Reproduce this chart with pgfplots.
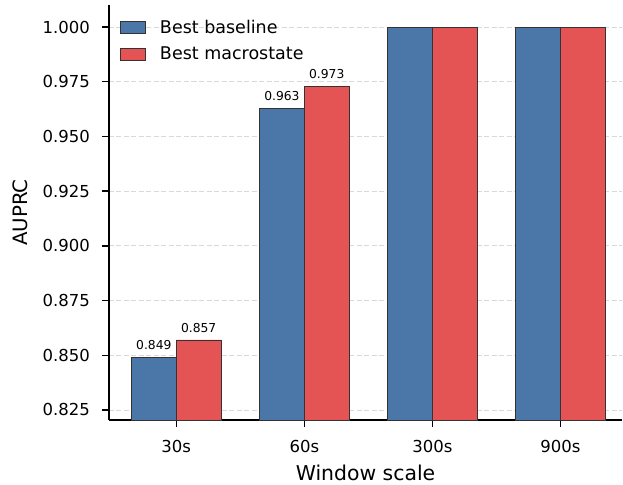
\documentclass[border=0pt]{standalone}
\usepackage{pgfplots}
\pgfplotsset{compat=1.18}
\usepackage{fontspec}
\setmainfont{DejaVu Sans}
\usetikzlibrary{calc}
\definecolor{cblue}{HTML}{4A76A8}
\definecolor{cred}{HTML}{E45455}
\definecolor{edge}{HTML}{333333}
\begin{document}
\begin{tikzpicture}
\begin{axis}[
  scale only axis,
  width=513pt, height=415pt,
  xmin=-0.525, xmax=3.48,
  ymin=0.8204, ymax=1.0101,
  xtick={0,1,2,3},
  xticklabels={30s,60s,300s,900s},
  ytick={0.825,0.850,0.875,0.900,0.925,0.950,0.975,1.000},
  /pgf/number format/assume math mode=true,
  ticklabel style={font=\fontsize{16.5}{20}\selectfont},
  yticklabel style={xshift=-8.5pt, /pgf/number format/.cd, fixed, fixed zerofill, precision=3},
  xticklabel style={anchor=base, yshift=-25pt},
  axis x line*=bottom, axis y line*=left,
  axis line style={line width=1.6pt, -},
  tick align=outside,
  major tick length=7pt,
  tick style={line width=1.4pt, black},
  xtick pos=bottom, ytick pos=left,
  ymajorgrids=true,
  grid style={dashed, gray!30, line width=0.8pt, dash pattern=on 5pt off 2.5pt},
  xlabel={Window scale},
  ylabel={AUPRC},
  every axis x label/.style={at={(axis description cs:0.5,-0.1446)}, anchor=base, inner sep=0pt, font=\fontsize{20.4}{24}\selectfont},
  every axis y label/.style={at={(axis description cs:-0.1735,0.5)}, anchor=center, rotate=90, font=\fontsize{19.8}{24}\selectfont},
  legend style={at={(axis description cs:0,1)}, anchor=north west, draw=none, fill=none,
    xshift=8pt, yshift=-11pt, font=\fontsize{17.5}{20}\selectfont, row sep=8pt},
  legend cell align=left,
  legend image code/.code={\draw[#1] (0pt,-6pt) rectangle (25pt,6pt); \path (37pt,0pt);},
  nodes near coords style={font=\fontsize{12.3}{14}\selectfont, anchor=south, yshift=4pt},
]
\addplot[ybar, bar width=0.35, fill=cblue, draw=edge, line width=0.8pt]
  coordinates {(1.825,1.000) (2.825,1.000)};
\addlegendentry{Best baseline}
\addplot[ybar, bar width=0.35, fill=cred, draw=edge, line width=0.8pt]
  coordinates {(2.175,1.000) (3.175,1.000)};
\addlegendentry{Best macrostate}
\addplot[ybar, bar width=0.35, fill=cblue, draw=edge, line width=0.8pt,
  nodes near coords={\pgfmathprintnumber[fixed,fixed zerofill,precision=3]{\pgfplotspointmeta}}, forget plot]
  coordinates {(-0.175,0.849) (0.825,0.963)};
\addplot[ybar, bar width=0.35, fill=cred, draw=edge, line width=0.8pt,
  nodes near coords={\pgfmathprintnumber[fixed,fixed zerofill,precision=3]{\pgfplotspointmeta}}, forget plot]
  coordinates {(0.175,0.857) (1.175,0.973)};
\coordinate (SW) at (rel axis cs:0,0);
\coordinate (NE) at (rel axis cs:1,1);
\end{axis}
\pgfresetboundingbox
\useasboundingbox ($(SW)+(-109pt,-64pt)$) rectangle ($(NE)+(1pt,5pt)$);
\end{tikzpicture}
\end{document}
